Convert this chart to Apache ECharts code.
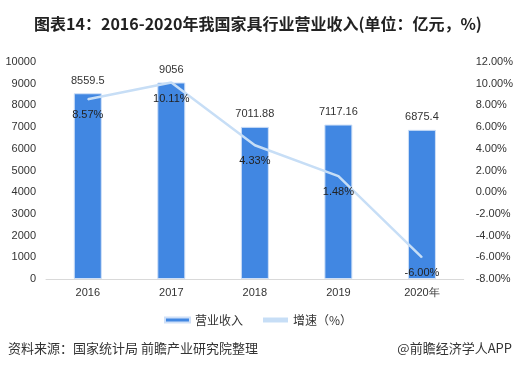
<!DOCTYPE html>
<html><head><meta charset="utf-8">
<script src="https://cdn.jsdelivr.net/npm/echarts@6/dist/echarts.min.js"></script>
<style>html,body{margin:0;padding:0;background:#fff}#c{width:516px;height:369px}</style>
</head><body><div id="c"></div>
<script>
const categories = ['2016','2017','2018','2019','2020年'];
const revenue = [8559.5, 9056, 7011.88, 7117.16, 6875.4];
const growth = [8.57, 10.11, 4.33, 1.48, -6.00];
const leftTicks = [0,1000,2000,3000,4000,5000,6000,7000,8000,9000,10000];
const rightTicks = [-8,-6,-4,-2,0,2,4,6,8,10,12];

const chart = echarts.init(document.getElementById('c'));
chart.setOption({
  animation:false,
  title:{text:'图表14：2016-2020年我国家具行业营业收入(单位：亿元，%)',left:'center',top:11,
    textStyle:{fontSize:16,fontWeight:'bold',color:'#222',fontFamily:'Noto Sans CJK SC'}},
  graphic:[
    {type:'text',left:8,top:342,style:{text:'资料来源：国家统计局 前瞻产业研究院整理',fontSize:13,fill:'#333',fontFamily:'Noto Sans CJK SC'}},
    {type:'text',right:4,top:342,style:{text:'@前瞻经济学人APP',fontSize:13,fill:'#333',fontFamily:'Noto Sans CJK SC'}}
  ],
  legend:{bottom:38,left:'center',itemWidth:25,itemHeight:5,itemGap:20,
    textStyle:{fontSize:12,color:'#333',fontFamily:'Noto Sans CJK SC'},
    data:[{name:'营业收入',icon:'rect'},{name:'增速（%）',icon:'rect'}]},
  grid:{left:46,right:48,top:62,bottom:90},
  xAxis:{type:'category',data:categories,
    axisLine:{lineStyle:{color:'#d9d9d9'}},axisTick:{show:false},
    axisLabel:{color:'#333',fontSize:11,margin:8}},
  yAxis:[
    {type:'value',min:leftTicks[0],max:leftTicks[leftTicks.length-1],interval:1000,
     splitLine:{show:false},axisLine:{show:false},axisTick:{show:false},
     axisLabel:{color:'#333',fontSize:11,margin:10,formatter:v=>String(v)}},
    {type:'value',min:rightTicks[0],max:rightTicks[rightTicks.length-1],interval:2,
     splitLine:{show:false},axisLine:{show:false},axisTick:{show:false},
     axisLabel:{color:'#333',fontSize:11,margin:12,formatter:v=>v.toFixed(2)+'%'}}
  ],
  series:[
    {name:'营业收入',type:'bar',data:revenue,barWidth:28,
     itemStyle:{color:'#4187e2',borderColor:'#cfe0f7',borderWidth:1},
     label:{show:true,position:'top',color:'#333',fontSize:11,distance:7}},
    {name:'增速（%）',type:'line',yAxisIndex:1,data:growth,symbol:'circle',symbolSize:1,showSymbol:true,
     lineStyle:{color:'#c7def6',width:2.5},itemStyle:{color:'#c7def6'},
     label:{show:true,position:'bottom',color:'#222',fontSize:11,distance:10,formatter:p=>p.value.toFixed(2)+'%'}}
  ]
});
</script></body></html>
